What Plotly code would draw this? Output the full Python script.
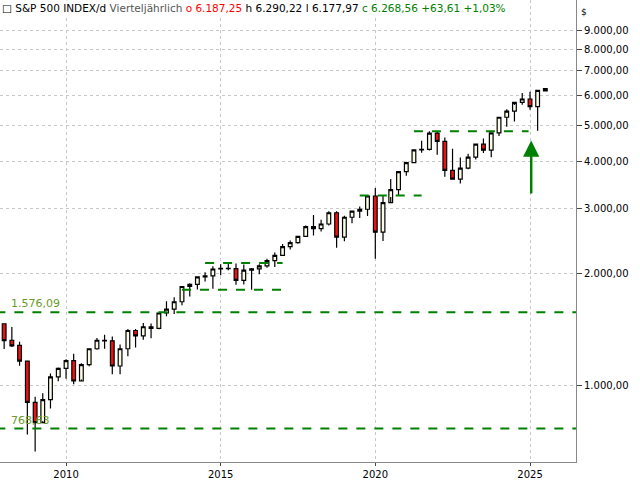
import math
import plotly.graph_objects as go

dates = []
for y in range(2008, 2026):
    for m in ("01", "04", "07", "10"):
        dates.append(f"{y}-{m}-01")
dates = dates[:71]

opens = [1468, 1326, 1284, 1166, 903, 797, 919, 1057, 1115, 1169, 1031, 1141,
         1258, 1326, 1321, 1131, 1258, 1408, 1362, 1441, 1426, 1569, 1606, 1682,
         1848, 1872, 1960, 1972, 2059, 2068, 2063, 1920, 2044, 2060, 2099, 2168,
         2239, 2363, 2423, 2519, 2674, 2641, 2718, 2914, 2507, 2834, 2942, 2977,
         3231, 2585, 3100, 3363, 3756, 3973, 4298, 4308, 4766, 4530, 3785, 3586,
         3840, 4109, 4450, 4288, 4770, 5254, 5460, 5762, 5882, 5612, 6187.25]
highs = [1471, 1440, 1313, 1167, 935, 956, 1080, 1120, 1180, 1220, 1150, 1260,
         1344, 1371, 1357, 1292, 1422, 1422, 1475, 1470, 1570, 1688, 1730, 1850,
         1884, 1968, 2019, 2094, 2120, 2135, 2129, 2116, 2072, 2120, 2194, 2278,
         2401, 2454, 2520, 2695, 2873, 2790, 2941, 2940, 2860, 2955, 3028, 3247,
         3393, 3233, 3588, 3760, 3994, 4301, 4546, 4818, 4819, 4637, 4325, 4101,
         4195, 4458, 4607, 4793, 5265, 5524, 5670, 6099, 6147, 6215, 6290.22]
lows = [1257, 1272, 1133, 741, 667, 805, 870, 1030, 1045, 1010, 1040, 1130,
        1250, 1258, 1075, 1075, 1202, 1267, 1330, 1343, 1420, 1537, 1560, 1646,
        1738, 1814, 1905, 1821, 1981, 2044, 1867, 1872, 1810, 1992, 2075, 2084,
        2233, 2322, 2405, 2510, 2533, 2595, 2692, 2347, 2444, 2729, 2822, 2856,
        2192, 2447, 3209, 3234, 3662, 3954, 4223, 4278, 4171, 3637, 3584, 3491,
        3809, 4048, 4216, 4104, 4683, 4954, 5120, 5674, 5504, 4835, 6177.97]
closes = [1323, 1280, 1166, 903, 797, 919, 1057, 1115, 1169, 1031, 1141, 1258,
          1326, 1321, 1131, 1258, 1408, 1362, 1441, 1426, 1569, 1606, 1682, 1848,
          1872, 1960, 1972, 2059, 2068, 2063, 1920, 2044, 2060, 2099, 2168, 2239,
          2363, 2423, 2519, 2674, 2641, 2718, 2914, 2507, 2834, 2942, 2977, 3231,
          2585, 3100, 3363, 3756, 3973, 4298, 4308, 4766, 4530, 3785, 3586, 3840,
          4109, 4450, 4288, 4770, 5254, 5460, 5762, 5882, 5612, 6205, 6268.56]

tick_vals = [1000, 2000, 3000, 4000, 5000, 6000, 7000, 8000, 9000]
tick_text = ["1.000,00", "2.000,00", "3.000,00", "4.000,00", "5.000,00",
             "6.000,00", "7.000,00", "8.000,00", "9.000,00"]

green = "#008000"

fig = go.Figure()
fig.add_trace(go.Candlestick(
    x=dates, open=opens, high=highs, low=lows, close=closes,
    increasing=dict(line=dict(color="black", width=1.2), fillcolor="#fbfbe6"),
    decreasing=dict(line=dict(color="black", width=1.2), fillcolor="#ee1111"),
    whiskerwidth=0, showlegend=False, hoverinfo="skip"))

# support/resistance lines
levels = [
    ("2007-10-01", "2026-08-01", 1576.09),
    ("2007-10-01", "2026-08-01", 768.63),
    ("2013-10-01", "2017-01-01", 1810),
    ("2014-07-01", "2017-01-01", 2135),
    ("2019-07-01", "2021-07-01", 3240),
    ("2021-04-01", "2024-12-15", 4818),
]
for x0, x1, lv in levels:
    fig.add_trace(go.Scatter(x=[x0, x1], y=[lv, lv], mode="lines",
                             line=dict(color=green, width=2, dash="dash"),
                             showlegend=False, hoverinfo="skip"))

for lv, txt in [(1576.09, "1.576,09"), (768.63, "768,63")]:
    fig.add_annotation(x="2008-03-01", y=math.log10(lv), text=txt,
                       showarrow=False, xanchor="left", yanchor="bottom",
                       font=dict(color="#6a9a2a", size=11))

# arrow
fig.add_annotation(x="2025-01-15", y=math.log10(4550), ax="2025-01-15", ay=math.log10(3250),
                   xref="x", yref="y", axref="x", ayref="y", text="",
                   showarrow=True, arrowhead=2, arrowsize=1.3, arrowwidth=2.5,
                   arrowcolor=green)

fig.add_annotation(xref="paper", yref="paper", x=0.0, y=1.0, xanchor="left", yanchor="top",
                   showarrow=False, align="left",
                   text="<span style='color:black'>\u25a1 S&P 500 INDEX/d</span> "
                        "<span style='color:#555'>Vierteljährlich</span> "
                        "<span style='color:red'>o 6.187,25</span> "
                        "<span style='color:black'>h 6.290,22</span> "
                        "<span style='color:black'>l 6.177,97</span> "
                        "<span style='color:green'>c 6.268,56</span> "
                        "<span style='color:green'>+63,61</span> "
                        "<span style='color:green'>+1,03%</span>",
                   font=dict(family="Tahoma, DejaVu Sans", size=10.5), bgcolor="white")
fig.add_annotation(xref="paper", yref="paper", x=1.005, y=0.99, xanchor="left", yanchor="top",
                   showarrow=False, text="$", font=dict(size=9, color="black"))

fig.update_layout(
    width=640, height=480, paper_bgcolor="white", plot_bgcolor="white",
    margin=dict(l=0, r=64, t=0, b=18, autoexpand=False),
    font=dict(family="Tahoma, DejaVu Sans", size=10, color="black"),
    xaxis=dict(range=["2007-11-13", "2026-06-28"], rangeslider=dict(visible=False),
               showgrid=True, gridcolor="#c8c8c8", griddash="dot", automargin=False,
               tickvals=["2010-01-01", "2015-01-01", "2020-01-01", "2025-01-01"],
               ticktext=["2010", "2015", "2020", "2025"],
               ticks="outside", ticklen=3, showline=True, linecolor="#888", mirror=False),
    yaxis=dict(type="log", range=[2.796, 4.035], side="right", automargin=False,
               tickvals=tick_vals, ticktext=tick_text,
               showgrid=True, gridcolor="#c8c8c8", griddash="dot",
               ticks="outside", ticklen=5, showline=True, linecolor="#888"),
)

fig.write_html("out.html", config={"displayModeBar": False},
               post_script="document.body.style.margin='0';")
